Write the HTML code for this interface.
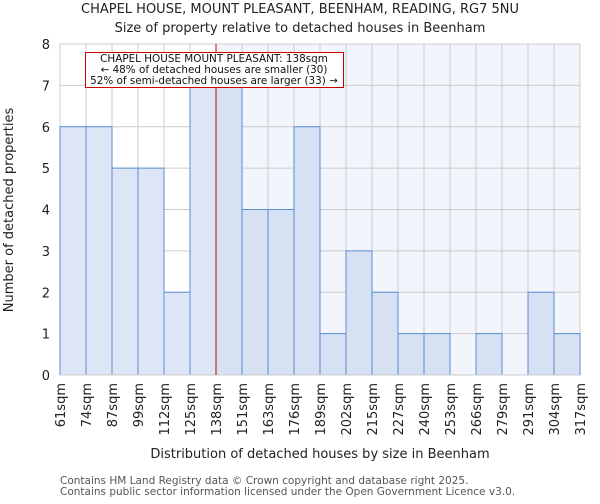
<!DOCTYPE html>
<html><head><meta charset="utf-8"><style>
body{margin:0;background:#fff;font-family:"DejaVu Sans","Liberation Sans",sans-serif;}
svg text{font-family:"DejaVu Sans","Liberation Sans",sans-serif;}
</style></head><body>
<svg id="chart" width="600" height="500" xmlns="http://www.w3.org/2000/svg">
<text x="300" y="13" font-size="13" text-anchor="middle" fill="#222">CHAPEL HOUSE, MOUNT PLEASANT, BEENHAM, READING, RG7 5NU</text>
<text x="300" y="32" font-size="13" text-anchor="middle" fill="#222">Size of property relative to detached houses in Beenham</text>
<g id="plot"></g>
<text transform="translate(13,210) rotate(-90)" font-size="13" text-anchor="middle" fill="#222">Number of detached properties</text>
<text x="320" y="458" font-size="13" text-anchor="middle" fill="#222">Distribution of detached houses by size in Beenham</text>
<text x="60" y="484" font-size="10.5" fill="#555">Contains HM Land Registry data © Crown copyright and database right 2025.</text>
<text x="60" y="495" font-size="10.5" fill="#555">Contains public sector information licensed under the Open Government Licence v3.0.</text>
</svg>
<script>
const binLabels=["61sqm","74sqm","87sqm","99sqm","112sqm","125sqm","138sqm","151sqm","163sqm","176sqm","189sqm","202sqm","215sqm","227sqm","240sqm","253sqm","266sqm","279sqm","291sqm","304sqm","317sqm"];
const counts=[6,6,5,5,2,7,7,4,4,6,1,3,2,1,1,0,1,0,2,1];
const yTicks=[0,1,2,3,4,5,6,7,8];
const markerIndex=6;
const NS="http://www.w3.org/2000/svg";
const x0=60,x1=580,yB=375,yT=44,yMax=8;
const bw=(x1-x0)/counts.length;
const xs=i=>x0+i*bw;
const ys=v=>yB-(v/yMax)*(yB-yT);
const g=document.getElementById('plot');
function mk(t,a){const e=document.createElementNS(NS,t);for(const k in a)e.setAttribute(k,a[k]);g.appendChild(e);return e;}
const mx=xs(markerIndex);
let e=mk('rect',{x:mx,y:yT,width:x1-mx,height:yB-yT,fill:'#f2f5fc'});


yTicks.forEach(t=>{
 let l=mk('line',{x1:x0,x2:x1,y1:ys(t),y2:ys(t),stroke:'#cccccc','stroke-width':1});
 
 
 let tx=mk('text',{x:x0-10,y:ys(t)+5,'font-size':13,'text-anchor':'end',fill:'#222'});
 tx.textContent=t;
 
 
});
binLabels.forEach((b,i)=>{
 let l=mk('line',{x1:xs(i),x2:xs(i),y1:yT,y2:yB,stroke:'#cccccc','stroke-width':1});
 
 
 let tx=mk('text',{transform:`translate(${xs(i)+5},383) rotate(-90)`,'font-size':13,'text-anchor':'end',fill:'#222'});
 tx.textContent=b;
 
 
});
counts.forEach((c,i)=>{
 if(c<=0)return;
 let r=mk('rect',{x:xs(i),y:ys(c),width:bw,height:yB-ys(c),fill:i<markerIndex?'#dce6f4':'#d6e1f3',stroke:'#5b8ed6','stroke-width':1});
 
 
});
let ax=mk('line',{x1:x0,x2:x1,y1:yB,y2:yB,stroke:'#cccccc'});


let rl=mk('line',{x1:mx,x2:mx,y1:yT,y2:yB,stroke:'#cc0000','stroke-width':1});


let box=mk('rect',{x:85.5,y:52.5,width:258,height:35,fill:'#fff',stroke:'#cc0000','stroke-width':1});


["CHAPEL HOUSE MOUNT PLEASANT: 138sqm","← 48% of detached houses are smaller (30)","52% of semi-detached houses are larger (33) →"].forEach((s,i)=>{
 let t=mk('text',{x:214,y:62+i*11,'font-size':10.4,'text-anchor':'middle',fill:'#111'});
 t.textContent=s;
 
 
});
</script>
</body></html>
